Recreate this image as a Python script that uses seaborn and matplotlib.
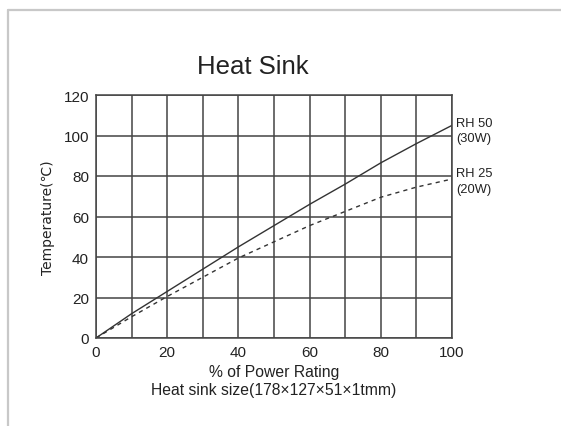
import matplotlib
matplotlib.use("Agg")
import matplotlib.pyplot as plt
import seaborn as sns
import pandas as pd
from matplotlib.lines import Line2D

power_pct = [0, 10, 20, 30, 40, 50, 60, 70, 80, 90, 100]
rh50_temp = [0, 12, 23, 34, 45, 55.5, 66, 76, 86.5, 96, 105]
rh25_temp = [0, 10.5, 20.5, 30, 39.5, 47.5, 55.5, 62.5, 69.5, 74.5, 78.5]
series_labels = ["RH 50\n(30W)", "RH 25\n(20W)"]
x_ticks = [0, 20, 40, 60, 80, 100]
y_ticks = [0, 20, 40, 60, 80, 100, 120]

sns.set_theme(style="white")
plt.rcParams['font.family'] = ['Liberation Sans', 'DejaVu Sans']

df = pd.DataFrame({
    "pct": power_pct * 2,
    "temp": rh50_temp + rh25_temp,
    "series": [series_labels[0]] * len(power_pct) + [series_labels[1]] * len(power_pct),
})

fig = plt.figure(figsize=(5.61, 4.27), dpi=100)
ax = fig.add_axes([96/561, 1-339/427, 356/561, 243/427])

ink = "#333333"
sns.lineplot(data=df[df.series == series_labels[0]], x="pct", y="temp", ax=ax,
             color=ink, lw=1.0, linestyle="-", legend=False)
sns.lineplot(data=df[df.series == series_labels[1]], x="pct", y="temp", ax=ax,
             color=ink, lw=1.0, linestyle=(0, (3, 3)), legend=False)

ax.set_xlim(0, 100)
ax.set_ylim(0, 120)
ax.set_xticks(x_ticks)
ax.set_xticks(range(0, 101, 10), minor=True)
ax.set_yticks(y_ticks)
ax.grid(True, which="both", axis="x", color="#444444", lw=1.1)
ax.grid(True, which="major", axis="y", color="#444444", lw=1.1)
ax.set_axisbelow(True)
for s in ax.spines.values():
    s.set_visible(True)
    s.set_color("#444444")
    s.set_linewidth(1.1)
ax.tick_params(axis="both", which="both", length=0, labelsize=11, colors="#222222", pad=5)

ax.set_xlabel("% of Power Rating\nHeat sink size(178×127×51×1tmm)", fontsize=11.3,
              color="#222222", labelpad=4, linespacing=1.2)
ax.set_ylabel("Temperature(℃)", fontsize=10, color="#222222", labelpad=6,
              family=['DejaVu Sans'])
fig.text(253/561, 1-67/427, "Heat Sink", ha="center", va="center", fontsize=18.5,
         color="#222222")

ax.text(101.2, rh50_temp[-1] - 2.5, series_labels[0], fontsize=9.3, color="#222222",
        va="center", ha="left", clip_on=False, linespacing=1.35)
ax.text(101.2, rh25_temp[-1] - 1, series_labels[1], fontsize=9.3, color="#222222",
        va="center", ha="left", clip_on=False, linespacing=1.35)

border = "#c8c8c8"
fig.add_artist(Line2D([8/561, 1], [1-11/427, 1-11/427], color=border, lw=1.6,
                      transform=fig.transFigure))
fig.add_artist(Line2D([8/561, 8/561], [0, 1-11/427], color=border, lw=1.6,
                      transform=fig.transFigure))

fig.savefig("out.png", dpi=100)
